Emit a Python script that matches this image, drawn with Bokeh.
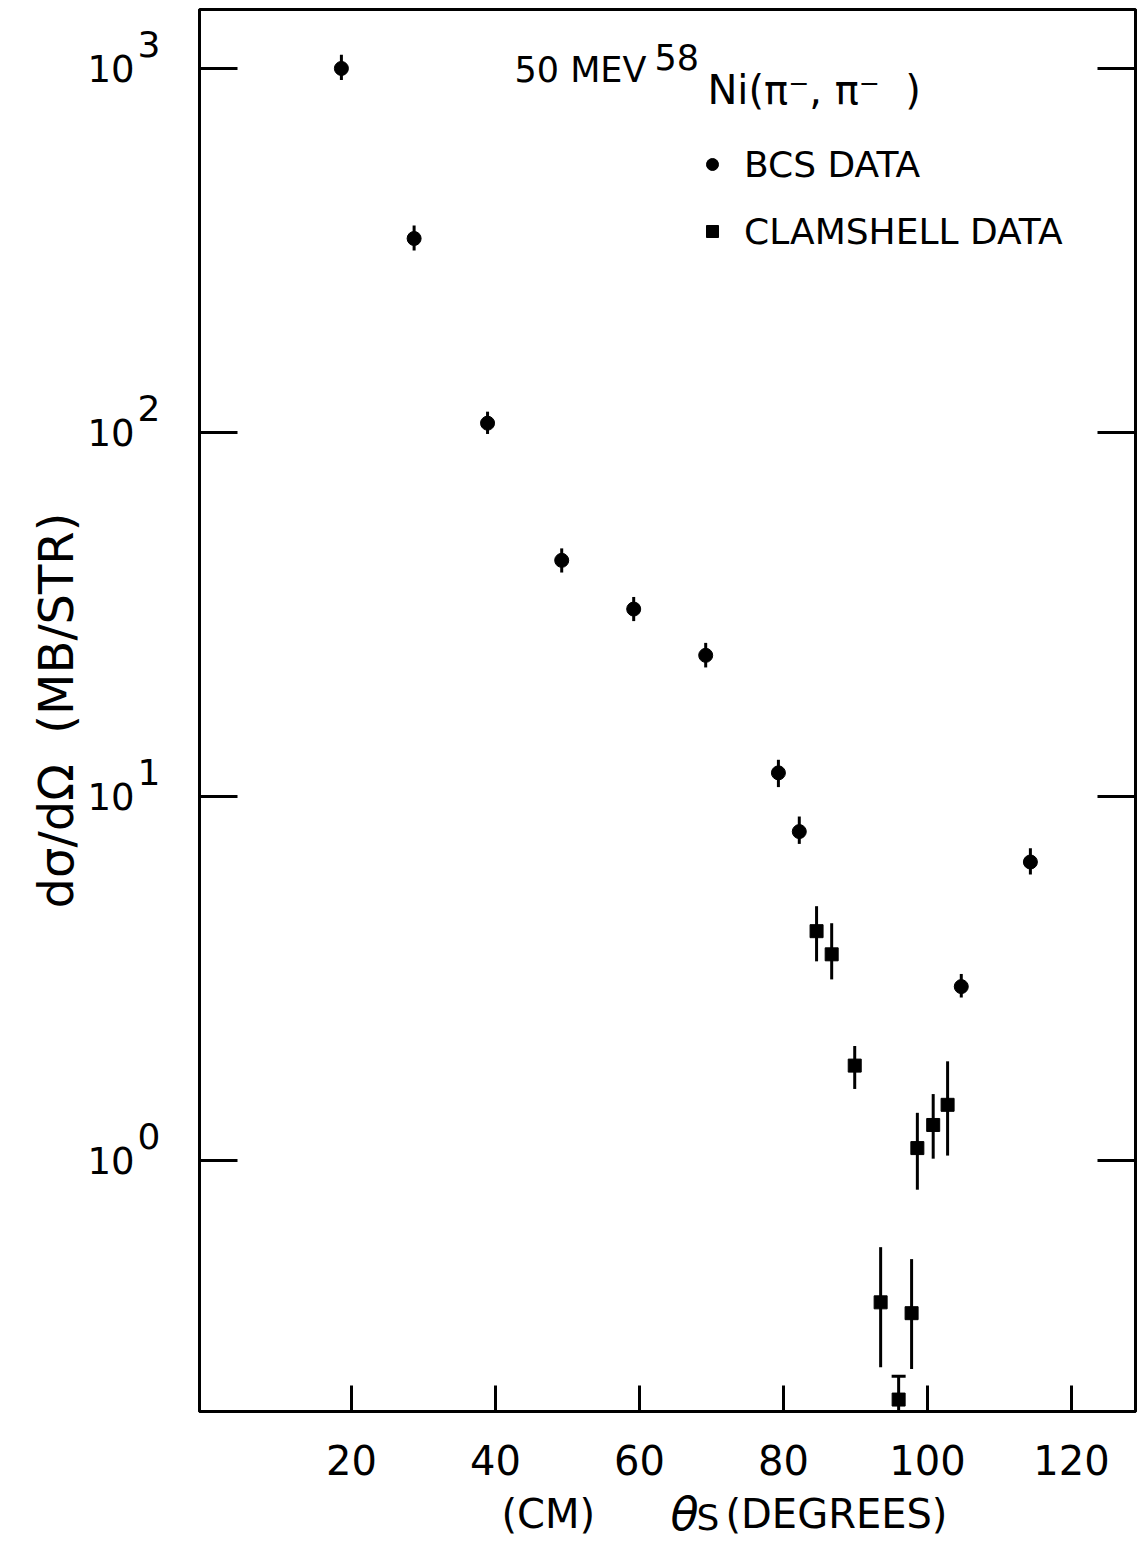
from bokeh.plotting import figure
from bokeh.layouts import column
from bokeh.models import Range1d, LogAxis, FixedTicker, Legend, LegendItem
from bokeh.core.properties import value
from bokeh.embed import file_html
from bokeh.resources import INLINE

# ---- data ----
bcs_theta = [18.6, 28.7, 38.9, 49.2, 59.2, 69.2, 79.3, 82.2, 104.7, 114.3]
bcs_xsec = [1000, 341, 106, 44.5, 32.7, 24.4, 11.6, 8.0, 3.0, 6.6]
bcs_hi = [1090, 370, 114, 48.0, 35.3, 26.4, 12.6, 8.8, 3.25, 7.2]
bcs_lo = [930, 316, 99, 41.2, 30.3, 22.6, 10.6, 7.4, 2.8, 6.1]

clam_theta = [84.6, 86.7, 89.9, 93.5, 96.0, 97.8, 98.6, 100.8, 102.8]
clam_xsec = [4.26, 3.68, 1.82, 0.407, 0.220, 0.380, 1.08, 1.25, 1.42]
clam_hi = [4.99, 4.48, 2.06, 0.577, 0.255, 0.535, 1.35, 1.52, 1.87]
clam_lo = [3.52, 3.14, 1.57, 0.270, 0.19, 0.267, 0.83, 1.01, 1.03]
clam_capped = [4]  # index of the point whose bar has a cap

x_ticks = [20, 40, 60, 80, 100, 120]
y_ticks = [1, 10, 100, 1000]
y_exponents = ["0", "1", "2", "3"]

FONT = "DejaVu Sans"
NB = "\u00a0"
X0, X1 = -1.11, 128.9
Y0, Y1 = 0.204, 1452
W = 1137
BL, BR = 199, 2

p = figure(width=W, height=1493, y_axis_type="log",
           x_range=Range1d(X0, X1), y_range=Range1d(Y0, Y1),
           output_backend="svg", toolbar_location=None,
           min_border_left=BL, min_border_right=BR, min_border_top=9, min_border_bottom=82)

p.background_fill_color = "white"
p.border_fill_color = "white"
p.outline_line_color = "black"
p.outline_line_width = 3
p.outline_line_alpha = 1
p.xgrid.visible = False
p.ygrid.visible = False

# x axis
xa = p.xaxis[0]
xa.ticker = FixedTicker(ticks=x_ticks, minor_ticks=[])
xa.major_tick_in = 26
xa.major_tick_out = 0
xa.major_tick_line_width = 3
xa.axis_line_width = 3
xa.major_label_text_font = FONT
xa.major_label_text_font_size = "40px"
xa.major_label_text_color = "black"
xa.major_label_standoff = 33

# left axis A (at the frame): inward ticks only
ya = p.yaxis[0]
ya.ticker = FixedTicker(ticks=y_ticks, minor_ticks=[])
ya.major_tick_in = 38
ya.major_tick_out = 0
ya.minor_tick_in = 0
ya.minor_tick_out = 0
ya.major_tick_line_width = 3
ya.axis_line_width = 3
ya.major_label_overrides = {t: "" for t in y_ticks}
ya.major_label_text_font_size = "2px"
ya.major_label_text_color = None
ya.major_label_standoff = 0

# left axis B: the exponents, set a little above each decade
exp_pos = [round(t * 1.164, 4) for t in y_ticks]
yb = LogAxis(ticker=FixedTicker(ticks=exp_pos, minor_ticks=[]),
             major_label_overrides={pos: e for pos, e in zip(exp_pos, y_exponents)},
             major_tick_in=0, major_tick_out=0, minor_tick_in=0, minor_tick_out=0,
             major_tick_line_color=None, axis_line_color=None,
             major_label_text_font=FONT, major_label_text_font_size="36px",
             major_label_text_color="black", major_label_standoff=39)
p.add_layout(yb, "left")

# left axis C: the "10" mantissas and the axis title
yc = LogAxis(ticker=FixedTicker(ticks=y_ticks, minor_ticks=[]),
             major_label_overrides={t: "10" for t in y_ticks},
             major_tick_in=0, major_tick_out=0, minor_tick_in=0, minor_tick_out=0,
             major_tick_line_color=None, axis_line_color=None,
             major_label_text_font=FONT, major_label_text_font_size="37px",
             major_label_text_color="black", major_label_standoff=0,
             axis_label="dσ/dΩ" + NB * 2 + "(MB/STR)", axis_label_text_font=FONT,
             axis_label_text_font_size="48px", axis_label_text_font_style="normal",
             axis_label_text_color="black", axis_label_standoff=0)
p.add_layout(yc, "left")

# right axis: inward ticks only, no visible labels
ra = LogAxis(ticker=FixedTicker(ticks=y_ticks, minor_ticks=[]),
             major_tick_in=38, major_tick_out=0, minor_tick_in=0, minor_tick_out=0,
             major_tick_line_width=3, axis_line_width=3,
             major_label_overrides={t: "" for t in y_ticks},
             major_label_text_font_size="2px", major_label_text_color=None,
             major_label_standoff=0)
p.add_layout(ra, "right")

# error bars
p.segment(x0=bcs_theta, y0=bcs_lo, x1=bcs_theta, y1=bcs_hi, line_color="black", line_width=3)
p.segment(x0=clam_theta, y0=clam_lo, x1=clam_theta, y1=clam_hi, line_color="black", line_width=3)
p.scatter(x=[clam_theta[i] for i in clam_capped], y=[clam_hi[i] for i in clam_capped],
          marker="dash", size=14, line_color="black", line_width=3)

r_bcs = p.scatter(x=bcs_theta, y=bcs_xsec, marker="circle", size=14,
                  fill_color="black", line_color="black")
r_clam = p.scatter(x=clam_theta, y=clam_xsec, marker="square", size=13,
                   fill_color="black", line_color="black")


def at(px, py):
    """page pixel -> data coordinates (for text placement)"""
    return (px - 208) / 7.2, 10 ** ((1161 - py) / 364)


def put(fig, x, y, text, size="35px", style="normal"):
    fig.text(x=[x], y=[y], text=[text], text_font=value(FONT), text_font_size=value(size),
             text_font_style=value(style), text_align="left", text_baseline="alphabetic",
             text_color="black")


put(p, *at(515, 71), "50 MEV")
put(p, *at(655, 58), "58")
put(p, *at(708, 91), "Ni(π⁻," + NB + "π⁻" + NB * 2 + ")", size="40px")

legend = Legend(items=[LegendItem(label="BCS DATA", renderers=[r_bcs]),
                       LegendItem(label="CLAMSHELL DATA", renderers=[r_clam])],
                location=(498, 1158), orientation="vertical",
                label_text_font=FONT, label_text_font_size="36px", label_text_color="black",
                glyph_width=30, glyph_height=44, label_height=44, spacing=23,
                label_standoff=17, padding=0, margin=0,
                border_line_color=None, background_fill_alpha=0)
p.add_layout(legend, "center")

# strip below the plot carrying the x-axis title "(CM) θ_S (DEGREES)";
# it is pulled up a little so that it overlaps the empty bottom border of the plot
H2 = 62
p2 = figure(width=W, height=H2, x_range=p.x_range, y_range=Range1d(0, H2),
            output_backend="svg", toolbar_location=None,
            x_axis_location=None, y_axis_location=None,
            min_border_left=BL, min_border_right=BR, min_border_top=0, min_border_bottom=0)
p2.margin = (-16, 0, 0, 0)
p2.outline_line_color = None
p2.xgrid.visible = False
p2.ygrid.visible = False
p2.background_fill_color = "white"
p2.border_fill_color = "white"


def put2(px, rise, text, size="40px", style="normal"):
    put(p2, (px - 208) / 7.2, rise, text, size=size, style=style)


put2(502, 26, "(CM)")
put2(671, 26, "θ", size="46px", style="italic")
put2(697, 22, "S", size="36px")
put2(726, 26, "(DEGREES)")

layout = column(p, p2, spacing=0)
open("out.html", "w").write(file_html(layout, INLINE))
